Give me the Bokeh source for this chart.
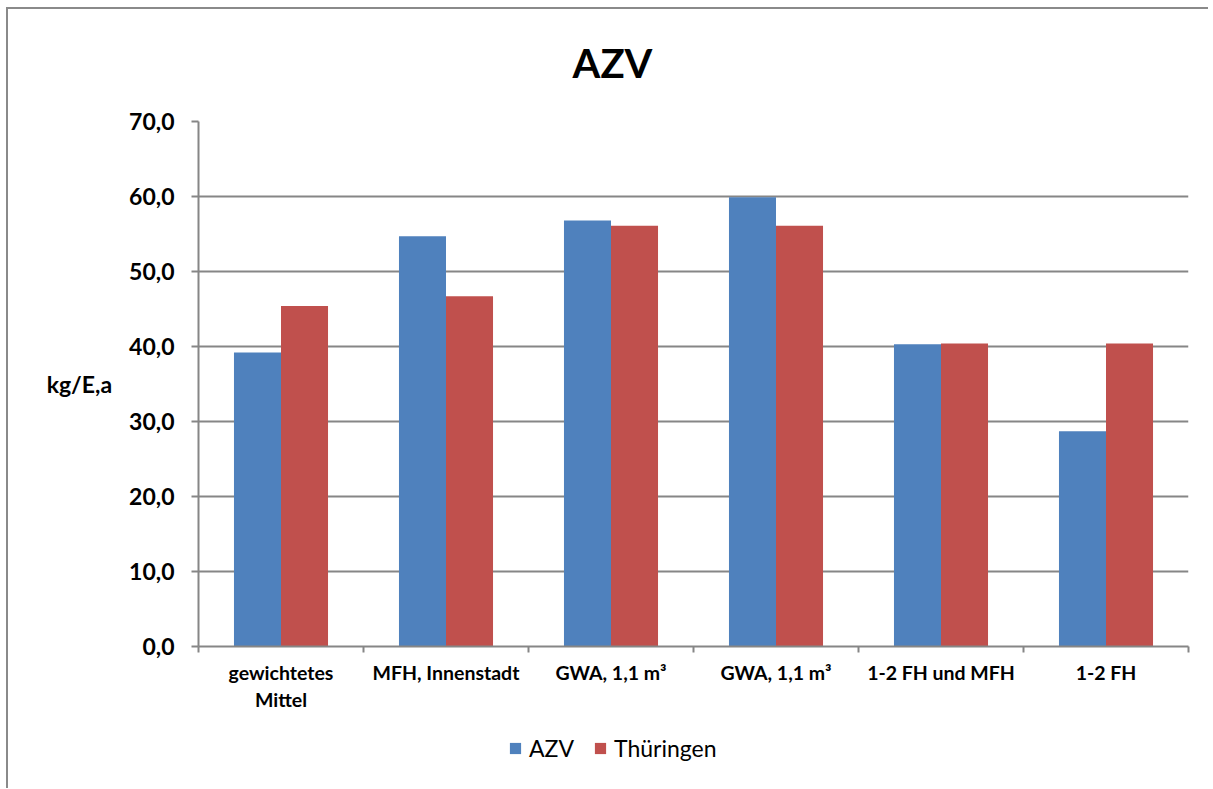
import numpy as np
from bokeh.plotting import figure
from bokeh.layouts import column
from bokeh.models import (ColumnDataSource, FixedTicker, Range1d, Legend, LegendItem, Label)
from bokeh.embed import file_html
from bokeh.resources import INLINE

# ---- data ----
categories = ["gewichtetes\nMittel", "MFH, Innenstadt", "GWA, 1,1 m³", "GWA, 1,1 m³", "1-2 FH und MFH", "1-2 FH"]
azv = [39.2, 54.7, 56.8, 59.9, 40.3, 28.7]
thueringen = [45.4, 46.7, 56.1, 56.1, 40.4, 40.4]
series_names = ["AZV", "Thüringen"]
y_ticks = [0, 10, 20, 30, 40, 50, 60, 70]
y_tick_labels = ["0,0", "10,0", "20,0", "30,0", "40,0", "50,0", "60,0", "70,0"]
title_text = "AZV"
y_label_text = "kg/E,a"

FONT = "Lato"
BLUE = "#4F81BD"
RED = "#C0504D"
GRID = "#868686"
W = 1200
FRAME_L, FRAME_W = 198, 990   # frame is aligned across the column

n = len(categories)
centers = np.arange(n) + 0.5
bw = 0.285

# ---- title strip ----
pt = figure(width=W, height=97, output_backend="svg", toolbar_location=None,
            x_range=Range1d(0, 1), y_range=Range1d(0, 1),
            x_axis_type=None, y_axis_type=None,
            min_border_left=0, min_border_right=0, min_border_top=0, min_border_bottom=0)
pt.outline_line_color = None
pt.grid.grid_line_color = None
pt.add_layout(Label(x=(612 - FRAME_L) / FRAME_W, y=1 - 53 / 97, text=title_text,
                    text_font=FONT, text_font_style="bold", text_font_size="40px",
                    text_align="center", text_baseline="middle", text_color="black"))

# ---- main chart ----
p = figure(width=W, height=612, output_backend="svg", toolbar_location=None,
           x_range=Range1d(0, n), y_range=Range1d(0, 70),
           min_border_left=190, min_border_right=20, min_border_top=15, min_border_bottom=72)
p.outline_line_color = None

src_a = ColumnDataSource(dict(x=centers - bw / 2, top=azv))
src_t = ColumnDataSource(dict(x=centers + bw / 2, top=thueringen))
ra = p.vbar(x="x", top="top", width=bw, bottom=0, source=src_a, fill_color=BLUE, line_color=None)
rt = p.vbar(x="x", top="top", width=bw, bottom=0, source=src_t, fill_color=RED, line_color=None)

# y axis
p.yaxis.ticker = FixedTicker(ticks=y_ticks)
p.yaxis.major_label_overrides = {t: l for t, l in zip(y_ticks, y_tick_labels)}
p.yaxis.major_label_text_font = FONT
p.yaxis.major_label_text_font_style = "bold"
p.yaxis.major_label_text_font_size = "23px"
p.yaxis.major_label_text_color = "black"
p.yaxis.major_tick_out = 7
p.yaxis.major_tick_in = 0
p.yaxis.minor_tick_line_color = None
p.yaxis.major_tick_line_color = GRID
p.yaxis.major_tick_line_width = 2
p.yaxis.axis_line_color = GRID
p.yaxis.axis_line_width = 2
p.yaxis.major_label_standoff = 17
p.yaxis.axis_label = y_label_text
p.yaxis.axis_label_orientation = "horizontal"
p.yaxis.axis_label_text_font = FONT
p.yaxis.axis_label_text_font_style = "bold"
p.yaxis.axis_label_text_font_size = "23px"
p.yaxis.axis_label_text_color = "black"
p.yaxis.axis_label_standoff = 14

# x axis
p.xaxis.ticker = FixedTicker(ticks=list(centers), minor_ticks=list(range(n + 1)))
p.xaxis.major_label_overrides = {float(c): lab for c, lab in zip(centers, categories)}
p.xaxis.major_label_text_font = FONT
p.xaxis.major_label_text_font_style = "bold"
p.xaxis.major_label_text_font_size = "19.5px"
p.xaxis.major_label_text_color = "black"
p.xaxis.major_tick_line_color = None
p.xaxis.minor_tick_out = 6
p.xaxis.minor_tick_in = 0
p.xaxis.minor_tick_line_color = GRID
p.xaxis.minor_tick_line_width = 2
p.xaxis.axis_line_color = GRID
p.xaxis.axis_line_width = 2
p.xaxis.major_label_standoff = 8

p.xgrid.grid_line_color = None
p.ygrid.ticker = FixedTicker(ticks=y_ticks[1:])
p.ygrid.grid_line_color = GRID
p.ygrid.grid_line_width = 2

# ---- legend strip ----
pl = figure(width=W, height=70, output_backend="svg", toolbar_location=None,
            x_range=Range1d(0, 1), y_range=Range1d(0, 1),
            x_axis_type=None, y_axis_type=None,
            min_border_left=0, min_border_right=0, min_border_top=0, min_border_bottom=0)
pl.outline_line_color = None
pl.grid.grid_line_color = None
# legend proxies kept outside the visible range of this strip
la = pl.vbar(x=[0.5], top=[-2], bottom=[-3], width=0.1, fill_color=BLUE, line_color=None)
lt = pl.vbar(x=[0.5], top=[-2], bottom=[-3], width=0.1, fill_color=RED, line_color=None)
legend = Legend(items=[LegendItem(label=series_names[0], renderers=[la]),
                       LegendItem(label=series_names[1], renderers=[lt])],
                location=(508 - FRAME_L, 26), orientation="horizontal",
                padding=0, margin=0, spacing=19, label_standoff=7,
                glyph_width=14, glyph_height=14, label_height=20,
                border_line_color=None, background_fill_alpha=0,
                label_text_font=FONT, label_text_font_size="23px", label_text_color="black")
pl.add_layout(legend, "center")

layout = column(pt, p, pl, spacing=0)
layout.styles = {"margin-left": "6px", "margin-top": "7px",
                 "border-left": "2px solid #8a8a8a", "border-top": "2px solid #8a8a8a"}

open("out.html", "w").write(file_html(layout, INLINE))
